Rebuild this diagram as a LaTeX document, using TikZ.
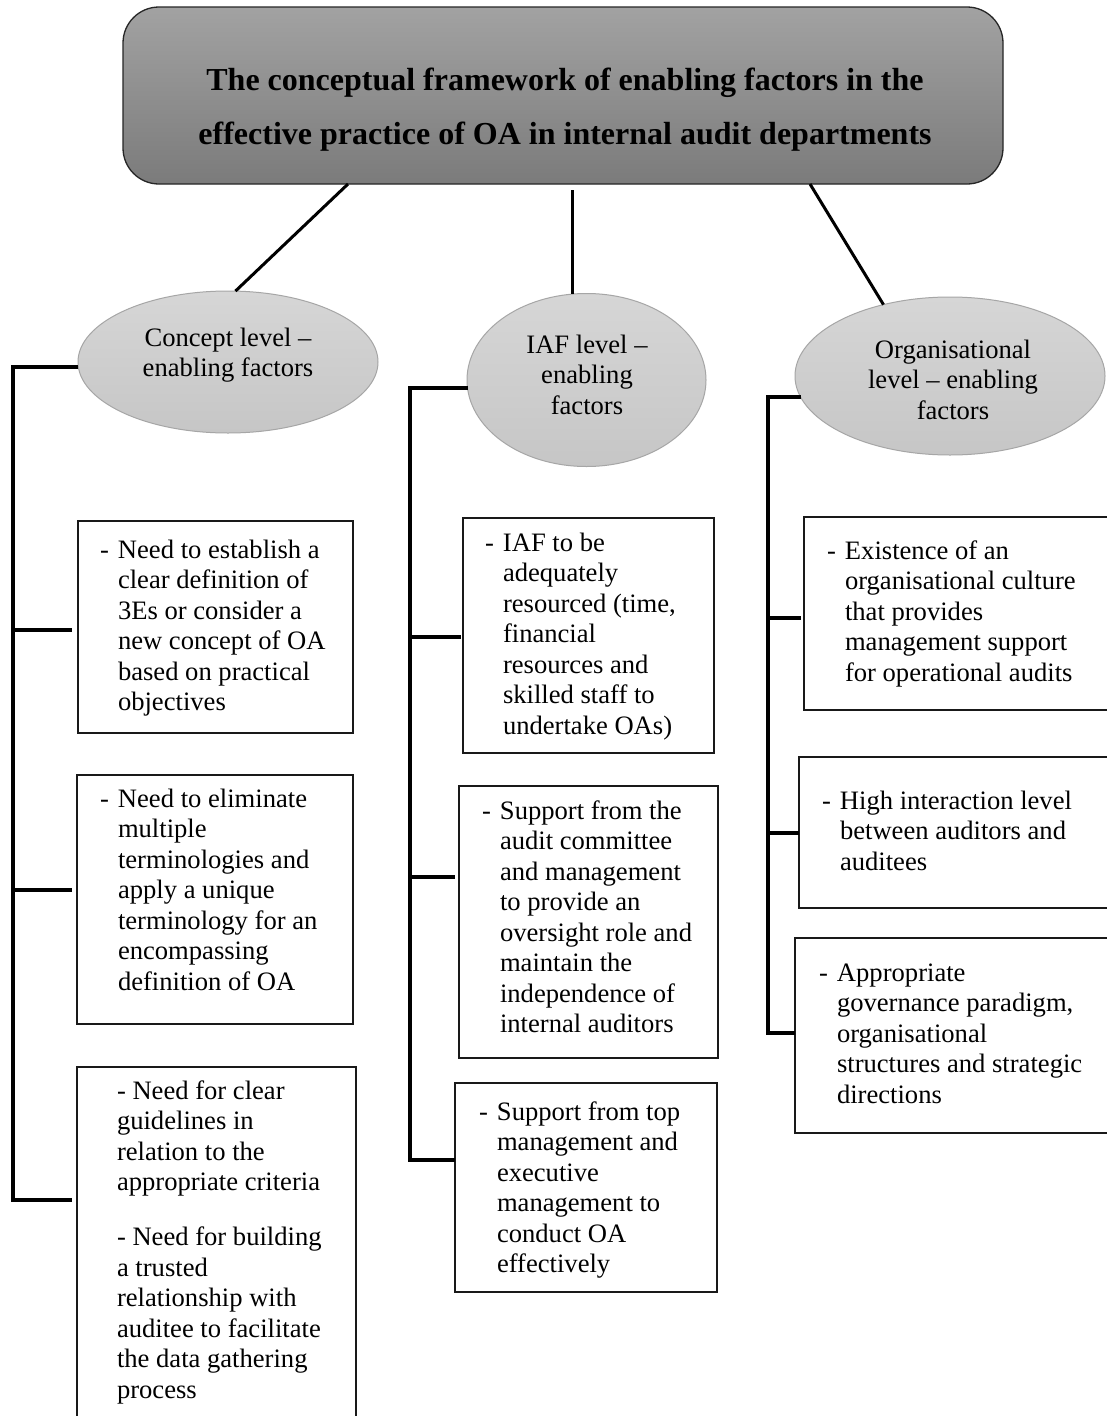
\documentclass[tikz,border=0pt]{standalone}
\usepackage{fontspec}
\setmainfont{Liberation Serif}
\usetikzlibrary{shapes.geometric}

\definecolor{titletop}{HTML}{A2A2A2}
\definecolor{titlebot}{HTML}{7B7B7B}
\definecolor{elltop}{HTML}{D6D6D6}
\definecolor{ellbot}{HTML}{C6C6C6}
\definecolor{ellline}{HTML}{A6A6A6}

% dash hanging to the left of the first line
\newcommand\leaddash{\leavevmode\llap{\makebox[18pt][l]{-}}}
% left-aligned block whose anchor is the first baseline
\newcommand\itemtext[1]{\parbox[t]{330pt}{\fontsize{26.6}{30.5}\selectfont #1}}
% centred block whose anchor is the first baseline
\newcommand\centretext[2]{\parbox[t]{#1}{\centering\fontsize{26.6}{30.5}\selectfont #2}}

\begin{document}
\begin{tikzpicture}[x=1pt,y=-1pt,
  titlebox/.style={draw=black!85, line width=1.3pt, rounded corners=36pt,
    top color=titletop, bottom color=titlebot, minimum width=880pt,
    minimum height=177pt, inner sep=0pt, outer sep=0pt},
  levelnode/.style={ellipse, draw=ellline, line width=1pt, top color=elltop,
    bottom color=ellbot, inner sep=0pt, outer sep=0pt},
  factorbox/.style={draw=black!90, line width=2.5pt, anchor=north west,
    inner sep=0pt, outer sep=0pt},
  txt/.style={anchor=base west, inner sep=0pt, outer sep=0pt},
  ctxt/.style={anchor=base, inner sep=0pt, outer sep=0pt},
  link/.style={line width=3pt},
  bracket/.style={line width=4pt}]

\useasboundingbox (0,0) rectangle (1107,1416);
\fill[white] (0,0) rectangle (1107,1416);

% heading
\node[titlebox] (title) at (563,95.5) {};
\node[ctxt] (titletext) at (565,90) {\parbox[t]{860pt}{\centering\fontsize{32}{54}\selectfont\bfseries
  The conceptual framework of enabling factors in the\\effective practice of OA in internal audit departments}};

% the three levels
\node[levelnode, minimum width=300pt, minimum height=142pt] (concept) at (228,362) {};
\node[levelnode, minimum width=239pt, minimum height=173pt] (iaf) at (586.5,380) {};
\node[levelnode, minimum width=310pt, minimum height=158pt] (org) at (950,376) {};
\node[ctxt] (concepttext) at (228,346) {\centretext{280pt}{Concept level –\\enabling factors}};
\node[ctxt] (iaftext) at (587,353) {\centretext{220pt}{IAF level –\\enabling\\factors}};
\node[ctxt] (orgtext) at (953,358) {\centretext{290pt}{Organisational\\level – enabling\\factors}};

% heading to levels
\coordinate (xA) at (348,0);
\coordinate (xB) at (572,0);
\coordinate (xC) at (810,0);
\draw[link] (title.south -| xA) -- (concept.84);
\draw[link, shorten <=6pt] (title.south -| xB) -- (iaf.north -| xB);
\draw[link] (title.south -| xC) -- (org.133);

% concept level factors
\node[factorbox, minimum width=275pt, minimum height=212pt] (c1) at (78,521) {};
\node[factorbox, minimum width=276pt, minimum height=249pt] (c2) at (77,775) {};
\node[factorbox, minimum width=279pt, minimum height=380pt] (c3) at (77,1067) {};
\node[txt] (c1text) at (118,558) {\itemtext{\leaddash Need to establish a\\clear definition of\\3Es or consider a\\new concept of OA\\based on practical\\objectives}};
\node[txt] (c2text) at (118,807) {\itemtext{\leaddash Need to eliminate\\multiple\\terminologies and\\apply a unique\\terminology for an\\encompassing\\definition of OA}};
\node[txt] (c3text) at (117,1099) {\itemtext{- Need for clear\\guidelines in\\relation to the\\appropriate criteria\\[24.5pt]- Need for building\\a trusted\\relationship with\\auditee to facilitate\\the data gathering\\process}};

% IAF level factors
\node[factorbox, minimum width=251pt, minimum height=235pt] (m1) at (463,518) {};
\node[factorbox, minimum width=259pt, minimum height=272pt] (m2) at (459,786) {};
\node[factorbox, minimum width=262pt, minimum height=209pt] (m3) at (455,1083) {};
\node[txt] (m1text) at (503,551) {\itemtext{\leaddash IAF to be\\adequately\\resourced (time,\\financial\\resources and\\skilled staff to\\undertake OAs)}};
\node[txt] (m2text) at (500,819) {\itemtext{\leaddash Support from the\\audit committee\\and management\\to provide an\\oversight role and\\maintain the\\independence of\\internal auditors}};
\node[txt] (m3text) at (497,1120) {\itemtext{\leaddash Support from top\\management and\\executive\\management to\\conduct OA\\effectively}};

% organisational level factors
\node[factorbox, minimum width=330pt, minimum height=193pt] (r1) at (804,517) {};
\node[factorbox, minimum width=335pt, minimum height=151pt] (r2) at (799,757) {};
\node[factorbox, minimum width=340pt, minimum height=195pt] (r3) at (795,938) {};
\node[txt] (r1text) at (845,559) {\itemtext{\leaddash Existence of an\\organisational culture\\that provides\\management support\\for operational audits}};
\node[txt] (r2text) at (840,809) {\itemtext{\leaddash High interaction level\\between auditors and\\auditees}};
\node[txt] (r3text) at (837,981) {\itemtext{\leaddash Appropriate\\governance paradigm,\\organisational\\structures and strategic\\directions}};

% brackets: concept level
\coordinate (sA) at (13,0);
\coordinate (ta1) at (0,630);
\coordinate (ta2) at (0,890);
\coordinate (ta3) at (0,1200);
\draw[bracket, shorten >=5pt] (concept.182) -- (concept.182 -| sA) -- (sA |- ta3) -- (c3.west |- ta3);
\draw[bracket, shorten >=6pt] (sA |- ta1) -- (c1.west |- ta1);
\draw[bracket, shorten >=5pt] (sA |- ta2) -- (c2.west |- ta2);

% brackets: IAF level
\coordinate (sB) at (410,0);
\coordinate (tb1) at (0,637);
\coordinate (tb2) at (0,877);
\coordinate (tb3) at (0,1160);
\draw[bracket] (iaf.184) -- (iaf.184 -| sB) -- (sB |- tb3) -- (m3.west |- tb3);
\draw[bracket, shorten >=2pt] (sB |- tb1) -- (m1.west |- tb1);
\draw[bracket, shorten >=4pt] (sB |- tb2) -- (m2.west |- tb2);

% brackets: organisational level
\coordinate (sC) at (768,0);
\coordinate (tc1) at (0,618);
\coordinate (tc2) at (0,833);
\coordinate (tc3) at (0,1033);
\draw[bracket] (org.188) -- (org.188 -| sC) -- (sC |- tc3) -- (r3.west |- tc3);
\draw[bracket, shorten >=3pt] (sC |- tc1) -- (r1.west |- tc1);
\draw[bracket] (sC |- tc2) -- (r2.west |- tc2);
\end{tikzpicture}
\end{document}
